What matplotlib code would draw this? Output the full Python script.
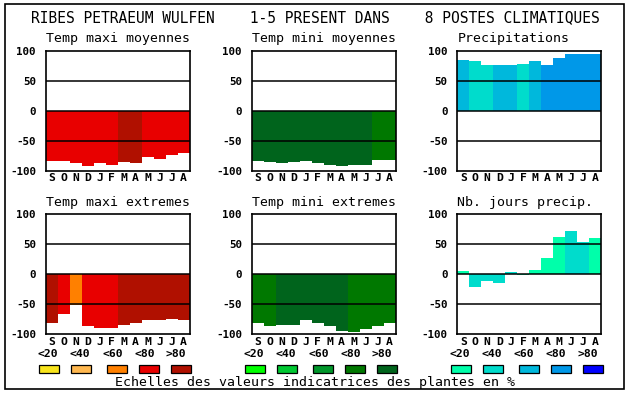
import matplotlib
matplotlib.use("Agg")
import matplotlib.pyplot as plt
from matplotlib.patches import Rectangle

W, H = 630, 394

months = ["S", "O", "N", "D", "J", "F", "M", "A", "M", "J", "J", "A"]
class_labels = ["<20", "<40", "<60", "<80", ">80"]

red_scale = ["#f8e41c", "#ffb850", "#ff8000", "#e80000", "#b01000"]
green_scale = ["#00ff00", "#00c832", "#00962a", "#007800", "#00641c"]
blue_scale = ["#00ffaa", "#00dccc", "#00b8dc", "#0098e8", "#0000ff"]

# values, class index = colour in the scale (0..4)
tmax_moy = [-84, -84, -87, -92, -87, -90, -86, -87, -77, -81, -74, -71]
tmax_moy_cls = [3, 3, 3, 3, 3, 3, 4, 4, 3, 3, 3, 3]

tmin_moy = [-84, -86, -87, -86, -84, -87, -90, -92, -90, -90, -82, -82]
tmin_moy_cls = [4, 4, 4, 4, 4, 4, 4, 4, 4, 4, 3, 3]

precip = [84, 83, 76, 76, 76, 78, 83, 76, 88, 94, 94, 94]
precip_cls = [2, 1, 1, 2, 2, 1, 2, 3, 3, 3, 3, 3]

tmax_ext = [-81, -67, -52, -87, -90, -90, -84, -81, -76, -77, -74, -76]
tmax_ext_cls = [4, 3, 2, 3, 3, 3, 4, 4, 4, 4, 4, 4]

tmin_ext = [-82, -87, -84, -84, -77, -81, -86, -94, -96, -92, -86, -82]
tmin_ext_cls = [3, 3, 4, 4, 4, 4, 4, 4, 3, 3, 3, 3]

nb_jours = [6, -21, -11, -14, 4, -2, 7, 27, 62, 72, 54, 61]
nb_jours_cls = [0, 1, 1, 1, 1, 0, 0, 0, 0, 1, 1, 0]

panels = [
    ("Temp maxi moyennes", tmax_moy, tmax_moy_cls, red_scale, 0, 0),
    ("Temp mini moyennes", tmin_moy, tmin_moy_cls, green_scale, 0, 1),
    ("Precipitations", precip, precip_cls, blue_scale, 0, 2),
    ("Temp maxi extremes", tmax_ext, tmax_ext_cls, red_scale, 1, 0),
    ("Temp mini extremes", tmin_ext, tmin_ext_cls, green_scale, 1, 1),
    ("Nb. jours precip.", nb_jours, nb_jours_cls, blue_scale, 1, 2),
]

MONO = "DejaVu Sans Mono"

fig = plt.figure(figsize=(W / 100, H / 100), dpi=100)
fig.patch.set_facecolor("white")

# outer frame
fig.patches.append(Rectangle((5 / W, 1 - 389 / H), 619 / W, 385 / H,
                             transform=fig.transFigure, fill=False,
                             edgecolor="black", linewidth=1.2))

fig.text(315 / W, 1 - 18 / H,
         "RIBES PETRAEUM WULFEN    1-5 PRESENT DANS    8 POSTES CLIMATIQUES",
         ha="center", va="center", family=MONO, fontsize=10.5)

col_left = [45.7, 251.7, 457.3]
row_top = [50.7, 214.3]
aw, ah = 144, 120

for title, vals, cls, scale, r, c in panels:
    left = col_left[c]
    top = row_top[r]
    ax = fig.add_axes([left / W, 1 - (top + ah) / H, aw / W, ah / H])
    ax.bar(range(12), vals, width=1.0, color=[scale[k] for k in cls],
           linewidth=0, zorder=2)
    for y in (50, 0, -50):
        ax.axhline(y, color="black", linewidth=1.1, zorder=3)
    ax.set_xlim(-0.5, 11.5)
    ax.set_ylim(-100, 100)
    ax.set_yticks([100, 50, 0, -50, -100])
    ax.set_yticklabels(["100", "50", "0", "-50", "-100"],
                       family=MONO, fontweight="bold", fontsize=7.8)
    ax.set_xticks(range(12))
    ax.set_xticklabels(months, family=MONO, fontweight="bold", fontsize=8.2)
    ax.tick_params(length=0)
    ax.tick_params(axis="y", pad=7)
    ax.tick_params(axis="x", pad=2)
    for s in ax.spines.values():
        s.set_linewidth(1.2)
    ax.text(0, 1.0 + 12 / ah, title, transform=ax.transAxes, ha="left",
            va="center", family=MONO, fontsize=9.5)

    if r == 1:
        box_off = [-6.4, 25.6, 61.6, 93.6, 125.6]
        lab_off = [2.5, 34.5, 67, 99, 130.5]
        for k in range(5):
            fig.patches.append(Rectangle(((left + box_off[k]) / W, 1 - 373 / H),
                                         20 / W, 8 / H,
                                         transform=fig.transFigure,
                                         facecolor=scale[k], edgecolor="black",
                                         linewidth=0.9))
            fig.text((left + lab_off[k]) / W, 1 - 354 / H, class_labels[k],
                     ha="center", va="center", family=MONO,
                     fontweight="bold", fontsize=8.2)

fig.text(315 / W, 1 - 382.5 / H,
         "Echelles des valeurs indicatrices des plantes en %",
         ha="center", va="center", family=MONO, fontsize=9.5)

fig.savefig("out.png", dpi=100)
plt.close(fig)
